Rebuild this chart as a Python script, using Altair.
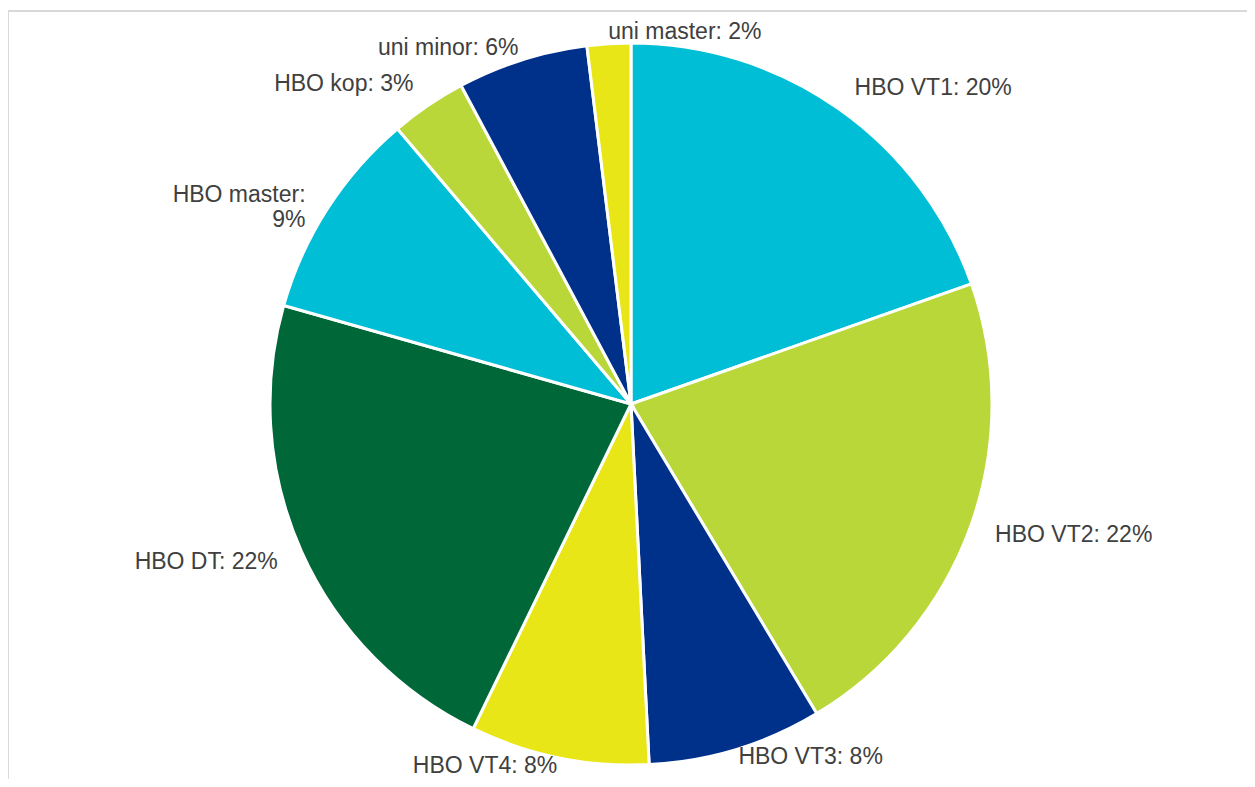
import altair as alt
import pandas as pd

categories = ["HBO VT1", "HBO VT2", "HBO VT3", "HBO VT4", "HBO DT",
              "HBO master", "HBO kop", "uni minor", "uni master"]
values = [19.6, 21.8, 7.8, 8.0, 22.2, 9.4, 3.4, 5.85, 1.95]
labels = ["HBO VT1: 20%", "HBO VT2: 22%", "HBO VT3: 8%", "HBO VT4: 8%",
          "HBO DT: 22%", "HBO master:\n9%", "HBO kop: 3%", "uni minor: 6%",
          "uni master: 2%"]
colors = ["#00BED6", "#B9D739", "#00318A", "#E8E617", "#006838",
          "#00BED6", "#B9D739", "#00318A", "#E8E617"]

df = pd.DataFrame({
    "category": categories,
    "value": values,
    "label": labels,
    "idx": list(range(len(categories))),
})

theta_scale = alt.Scale(domain=[0, 100], range=[0, 6.283185307179586])
CX, CY = 623, 396
R = 361

base = alt.Chart(df)

arcs = base.mark_arc(outerRadius=R, stroke="white", strokeWidth=3).encode(
    theta=alt.Theta("value:Q", stack=True, scale=theta_scale),
    color=alt.Color("category:N",
                    scale=alt.Scale(domain=categories, range=colors),
                    legend=None),
    order=alt.Order("idx:Q"),
    x=alt.value(CX),
    y=alt.value(CY),
)

txt = base.transform_window(
    cum="sum(value)", sort=[alt.SortField("idx")], frame=[None, 0]
).transform_calculate(
    mid="datum.cum - datum.value / 2",
).transform_calculate(
    ang="datum.mid / 100 * 2 * PI"
).transform_calculate(
    side="sin(datum.ang) > -0.15 ? 'L' : 'R'",
    rad=f"cos(datum.ang) > 0.9 ? {R + 12} : (cos(datum.ang) < -0.9 ? {R + 8} : {R + 26})",
)

text_style = dict(baseline="middle", fontSize=23,
                  font="Liberation Sans", color="#404040", lineBreak="\n")

enc = dict(
    theta=alt.Theta("mid:Q", stack=False, scale=theta_scale),
    radius=alt.Radius("rad:Q", scale=None),
    text=alt.Text("label:N"),
    x=alt.value(CX),
    y=alt.value(CY),
)

text_left = txt.transform_filter("datum.side == 'L'").mark_text(
    align="left", **text_style).encode(**enc)
text_right = txt.transform_filter("datum.side == 'R'").mark_text(
    align="right", **text_style).encode(**enc)

frame_df = pd.DataFrame({"a": [0]})
border_top = alt.Chart(frame_df).mark_rule(color="#d9d9d9", strokeWidth=2).encode(
    x=alt.value(0), x2=alt.value(1239), y=alt.value(3))
border_left = alt.Chart(frame_df).mark_rule(color="#d9d9d9", strokeWidth=2).encode(
    x=alt.value(0), y=alt.value(3), y2=alt.value(771))

chart = alt.layer(border_top, border_left, arcs, text_left, text_right).properties(
    width=1239, height=771, padding=0,
    autosize=alt.AutoSizeParams(type="none"),
).configure_view(stroke=None)

chart.save("out.html", embed_options={"renderer": "svg", "actions": False})
